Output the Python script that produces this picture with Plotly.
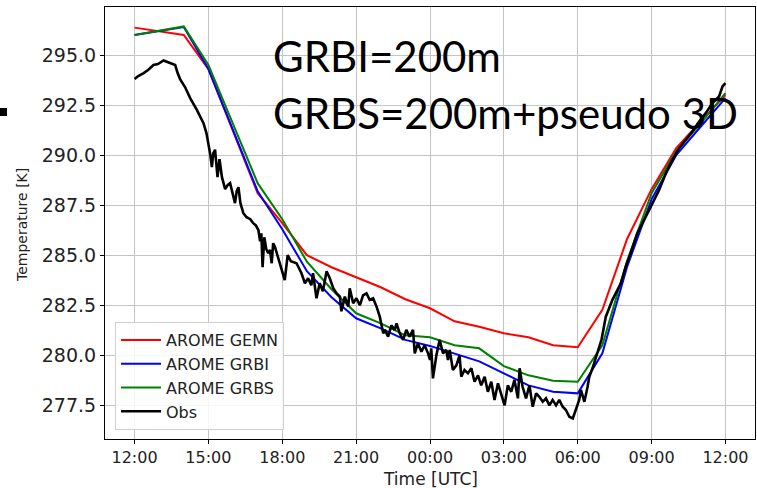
import pandas as pd
import plotly.graph_objects as go

# ---------------- data ----------------
base_time = "2020-01-01 12:00"
model_hours = list(range(0, 25))
gemn = [296.37, 296.2, 296.0, 294.3, 291.2, 288.1, 286.6, 285.0, 284.4, 283.9, 283.4, 282.8,
        282.35, 281.7, 281.43, 281.1, 280.9, 280.5, 280.4, 282.27, 285.8, 288.3, 290.35, 291.7, 293.0]
grbi = [296.0, 296.2, 296.4, 294.3, 291.25, 288.2, 286.3, 284.2, 282.9, 281.85, 281.35, 280.77,
        280.47, 280.1, 279.7, 279.1, 278.5, 278.18, 278.1, 280.1, 284.4, 287.8, 290.0, 291.43, 292.85]
grbs = [296.0, 296.2, 296.43, 294.5, 291.55, 288.6, 286.8, 284.68, 283.3, 282.1, 281.6, 281.0,
        280.9, 280.5, 280.35, 279.46, 279.0, 278.73, 278.68, 280.5, 284.7, 288.1, 290.2, 291.6, 293.1]

obs_hours = [0.00, 0.15, 0.37, 0.55, 0.77, 0.95, 1.18, 1.35, 1.51, 1.65, 1.75, 1.85, 2.05, 2.26,
             2.53, 2.80, 2.92, 3.00, 3.08, 3.14, 3.20, 3.27, 3.33, 3.37, 3.45, 3.55, 3.68, 3.78,
             3.88, 3.98, 4.08, 4.15, 4.22, 4.30, 4.42, 4.55, 4.70, 4.82, 4.92, 5.03, 5.10, 5.15,
             5.20, 5.27, 5.35, 5.43, 5.50, 5.57, 5.63, 5.70, 5.85, 6.10, 6.22, 6.35, 6.58, 6.78,
             6.92, 7.05, 7.18, 7.25, 7.39, 7.52, 7.65, 7.80, 7.93, 8.07, 8.20, 8.34, 8.40, 8.54,
             8.68, 8.74, 8.88, 9.01, 9.15, 9.28, 9.42, 9.55, 9.69, 9.83, 9.96, 10.10, 10.17, 10.30,
             10.43, 10.57, 10.64, 10.77, 10.91, 11.04, 11.17, 11.31, 11.38, 11.51, 11.65, 11.78,
             11.92, 12.00, 12.05, 12.12, 12.26, 12.39, 12.53, 12.66, 12.73, 12.80, 12.93, 13.07,
             13.20, 13.27, 13.40, 13.54, 13.68, 13.81, 13.95, 14.08, 14.22, 14.35, 14.49, 14.62,
             14.76, 14.89, 15.03, 15.16, 15.30, 15.43, 15.57, 15.64, 15.76, 15.90, 16.04, 16.17,
             16.31, 16.44, 16.58, 16.71, 16.85, 16.98, 17.12, 17.25, 17.39, 17.52, 17.66, 17.80,
             17.93, 18.06, 18.13, 18.20, 18.27, 18.40, 18.47, 18.60, 18.74, 18.87, 18.97, 19.14,
             19.41, 19.75, 19.95, 20.15, 20.42, 20.70, 20.90, 21.10, 21.31, 21.58, 21.85, 22.12,
             22.39, 22.66, 22.93, 23.20, 23.47, 23.74, 23.88, 24.00]
obs_temp = [293.80, 293.95, 294.10, 294.25, 294.50, 294.55, 294.73, 294.65, 294.60, 294.50, 294.10,
            293.80, 293.40, 292.85, 292.26, 291.60, 291.10, 290.60, 290.00, 289.40, 290.10, 290.27,
            289.20, 288.90, 289.80, 288.90, 288.30, 288.50, 288.60, 288.10, 287.60, 288.20, 288.40,
            287.60, 287.10, 286.90, 286.80, 286.60, 286.50, 286.26, 285.70, 286.10, 284.40, 285.90,
            285.30, 285.10, 285.27, 284.60, 285.60, 285.43, 284.80, 283.76, 285.00, 284.70, 284.60,
            284.10, 283.60, 283.85, 283.50, 284.10, 282.85, 283.60, 283.20, 284.20, 283.85, 283.35,
            283.10, 282.93, 282.20, 282.93, 282.43, 283.35, 282.60, 282.85, 282.50, 283.00, 283.10,
            282.77, 282.85, 282.43, 281.93, 281.10, 281.27, 280.93, 281.50, 281.27, 281.60, 281.10,
            280.77, 281.27, 280.93, 281.27, 280.10, 280.60, 280.18, 280.50, 280.10, 279.77, 280.35,
            278.85, 280.00, 280.77, 280.10, 280.27, 279.77, 280.27, 279.27, 279.50, 280.00, 278.93,
            279.27, 279.10, 279.35, 278.68, 279.00, 278.50, 278.93, 278.18, 278.68, 277.77, 278.60,
            278.10, 277.50, 278.50, 278.18, 278.77, 277.85, 279.35, 278.43, 277.85, 278.50, 277.43,
            278.10, 277.93, 277.68, 277.85, 277.50, 277.77, 277.50, 277.77, 277.43, 277.27, 276.93,
            276.85, 277.27, 277.77, 278.27, 277.93, 277.68, 278.43, 278.93, 279.35, 279.93, 280.43,
            280.80, 281.93, 282.77, 283.60, 284.43, 285.10, 286.10, 286.77, 287.27, 287.77, 288.27,
            289.10, 289.77, 290.35, 290.77, 291.18, 291.68, 292.10, 292.60, 292.93, 293.43, 293.60]

series_names = ["AROME GEMN", "AROME GRBI", "AROME GRBS", "Obs"]
series_colors = ["#ff0000", "#0000ff", "#008000", "#000000"]
note_lines = ["GRBI=200m", "GRBS=200m+pseudo 3D"]
x_title = "Time [UTC]"
y_title = "Temperature [K]"

# ---------------- figure ----------------
t0 = pd.Timestamp(base_time)
model_t = [t0 + pd.Timedelta(hours=h) for h in model_hours]
obs_t = [t0 + pd.Timedelta(hours=h) for h in obs_hours]

fig = go.Figure()
for name, vals, col in zip(series_names[:3], [gemn, grbi, grbs], series_colors[:3]):
    fig.add_trace(go.Scatter(x=model_t, y=vals, mode="lines", name=name,
                             line=dict(color=col, width=2)))
fig.add_trace(go.Scatter(x=obs_t, y=obs_temp, mode="lines", name=series_names[3],
                         line=dict(color=series_colors[3], width=2.6)))

txt = "#222222"
L, R, T, B = 105, 2, 7, 49
PW, PH = 757 - L - R, 488 - T - B
fig.update_layout(
    width=757, height=488,
    margin=dict(l=L, r=R, t=T, b=B),
    paper_bgcolor="white", plot_bgcolor="white",
    showlegend=True,
    legend=dict(x=(115 - L) / PW, y=(439 - 430) / PH, xanchor="left", yanchor="bottom",
                bgcolor="rgba(255,255,255,0.85)", bordercolor="#d0d0d0", borderwidth=1,
                font=dict(family="DejaVu Sans", size=16, color=txt),
                itemwidth=40, tracegroupgap=0),
    xaxis=dict(type="date",
               range=[t0 - pd.Timedelta(hours=1.2), t0 + pd.Timedelta(hours=25.2)],
               tick0=t0, dtick=3 * 3600 * 1000, tickformat="%H:%M",
               showgrid=True, gridcolor="#c4c4c4", gridwidth=1,
               showline=True, mirror=True, linecolor="black", linewidth=1,
               ticks="outside", ticklen=4, tickcolor="black",
               tickfont=dict(family="DejaVu Sans", size=16, color=txt),
               zeroline=False),
    yaxis=dict(range=[275.82, 297.4], tick0=277.5, dtick=2.5, tickformat=".1f",
               showgrid=True, gridcolor="#c4c4c4", gridwidth=1,
               showline=True, mirror=True, linecolor="black", linewidth=1,
               ticks="outside", ticklen=4, tickcolor="black",
               tickfont=dict(family="DejaVu Sans", size=19, color=txt),
               zeroline=False),
)

# axis titles
fig.add_annotation(xref="paper", yref="paper", x=(430 - L) / PW, y=(439 - 479) / PH,
                   xanchor="center", yanchor="middle", showarrow=False, text=x_title,
                   font=dict(family="DejaVu Sans", size=17, color=txt))
fig.add_annotation(xref="paper", yref="paper", x=(22 - L) / PW, y=(439 - 225) / PH,
                   xanchor="center", yanchor="middle", showarrow=False, text=y_title,
                   textangle=-90, font=dict(family="DejaVu Sans", size=14, color=txt))

# overlay notes
fig.add_annotation(xref="paper", yref="paper", x=(271 - L) / PW, y=(439 - 56) / PH,
                   xanchor="left", yanchor="middle", showarrow=False,
                   text=note_lines[0], font=dict(family="Lato", size=42, color="black"))
fig.add_annotation(xref="paper", yref="paper", x=(271 - L) / PW, y=(439 - 113) / PH,
                   xanchor="left", yanchor="middle", showarrow=False,
                   text=note_lines[1], font=dict(family="Lato", size=42, color="black"))

# small black mark at the left edge of the reference image
fig.add_shape(type="rect", xref="paper", yref="paper",
              x0=(0 - L) / PW, x1=(7 - L) / PW,
              y0=(439 - 116) / PH, y1=(439 - 108) / PH,
              fillcolor="black", line=dict(width=0))

fig.write_html("out.html")
